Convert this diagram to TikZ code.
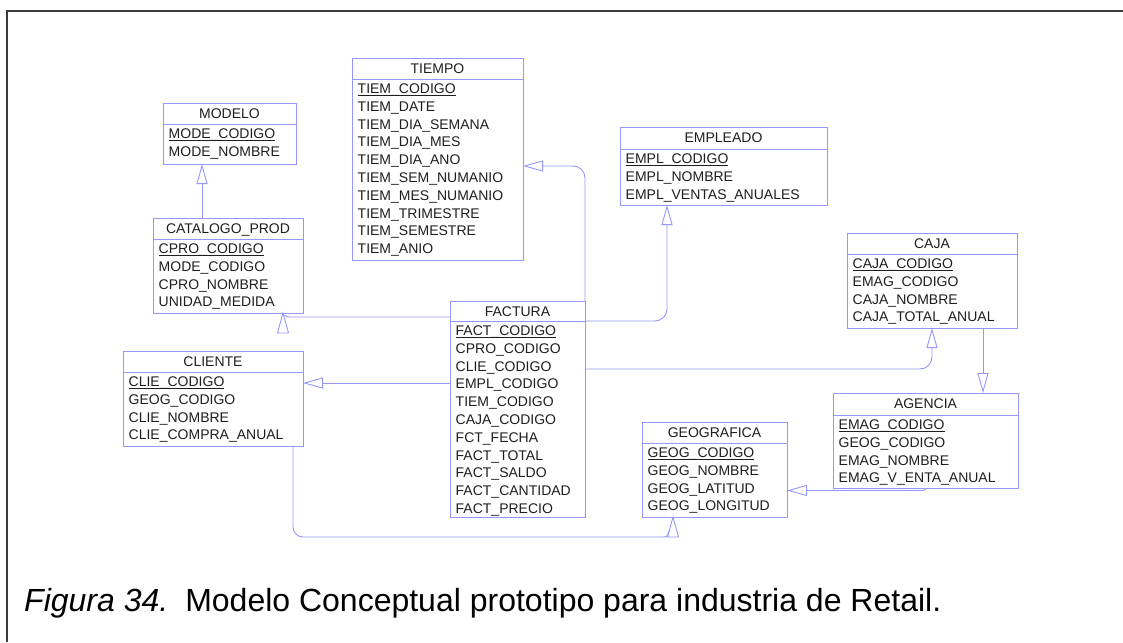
\documentclass[tikz,border=0pt]{standalone}
\usepackage{fontspec}
\setmainfont{Liberation Sans}
\usetikzlibrary{arrows.meta,calc}
\definecolor{lc}{RGB}{150,150,255}
\definecolor{txtc}{RGB}{30,30,30}
\definecolor{framec}{RGB}{60,60,60}
\newcommand\ulin[1]{\setbox0\hbox{#1}\rlap{\rule[-2.9pt]{\wd0}{0.9pt}}\box0}
\newcommand\entbox[8]{%
  \node[ent, minimum width=#4pt, minimum height=#5pt, anchor=north west] (#1) at (#2,#3) {};
  \draw[bline] ([yshift=-#6pt]#1.north west) -- ([yshift=-#6pt]#1.north east);
  \node[etxt, anchor=base] (#1-t) at ([yshift=-15.5pt]#1.north) {#7};
  \node[etxt, anchor=north west, align=left] (#1-a) at ([xshift=5.5pt,yshift=-#6pt-4.5pt]#1.north west) {#8};
}
\begin{document}
\begin{tikzpicture}[x=1pt,y=-1pt,
  ent/.style={draw=lc, line width=0.9pt, rectangle, inner sep=0pt, outer sep=0pt},
  bline/.style={draw=lc, line width=0.9pt},
  etxt/.style={text=txtc, inner sep=0pt, font=\fontsize{14}{17.8}\selectfont},
  conn/.style={draw=lc, line width=0.9pt, -{Triangle[length=20pt,width=11pt,fill=white]}},
  plain/.style={draw=lc, line width=0.9pt},
  tri/.style={draw=lc, line width=0.9pt, fill=white, line join=miter},
  frameline/.style={draw=framec, line width=1.6pt}]
\useasboundingbox (0,0) rectangle (1123,642);
\draw[frameline] (7,642) -- (7,11) -- (1123,11);

\entbox{modelo}{163}{103}{133}{61}{21}{MODELO}{\ulin{MODE\_CODIGO}\\MODE\_NOMBRE}
\entbox{catalogo}{153}{218}{150}{95}{21}{CATALOGO\_PROD}{\ulin{CPRO\_CODIGO}\\MODE\_CODIGO\\CPRO\_NOMBRE\\UNIDAD\_MEDIDA}
\entbox{tiempo}{352}{58}{171}{202}{21}{TIEMPO}{\ulin{TIEM\_CODIGO}\\TIEM\_DATE\\TIEM\_DIA\_SEMANA\\TIEM\_DIA\_MES\\TIEM\_DIA\_ANO\\TIEM\_SEM\_NUMANIO\\TIEM\_MES\_NUMANIO\\TIEM\_TRIMESTRE\\TIEM\_SEMESTRE\\TIEM\_ANIO}
\entbox{empleado}{620}{127}{207}{78}{22}{EMPLEADO}{\ulin{EMPL\_CODIGO}\\EMPL\_NOMBRE\\EMPL\_VENTAS\_ANUALES}
\entbox{caja}{847}{233}{170}{95}{21}{CAJA}{\ulin{CAJA\_CODIGO}\\EMAG\_CODIGO\\CAJA\_NOMBRE\\CAJA\_TOTAL\_ANUAL}
\entbox{agencia}{833}{393}{185}{95}{22}{AGENCIA}{\ulin{EMAG\_CODIGO}\\GEOG\_CODIGO\\EMAG\_NOMBRE\\EMAG\_V\_ENTA\_ANUAL}
\entbox{geografica}{642}{422}{145}{95}{21}{GEOGRAFICA}{\ulin{GEOG\_CODIGO}\\GEOG\_NOMBRE\\GEOG\_LATITUD\\GEOG\_LONGITUD}
\entbox{cliente}{123}{351}{180}{95}{21}{CLIENTE}{\ulin{CLIE\_CODIGO}\\GEOG\_CODIGO\\CLIE\_NOMBRE\\CLIE\_COMPRA\_ANUAL}
\entbox{factura}{450}{301}{135}{216}{20}{FACTURA}{\ulin{FACT\_CODIGO}\\CPRO\_CODIGO\\CLIE\_CODIGO\\EMPL\_CODIGO\\TIEM\_CODIGO\\CAJA\_CODIGO\\FCT\_FECHA\\FACT\_TOTAL\\FACT\_SALDO\\FACT\_CANTIDAD\\FACT\_PRECIO}

% CATALOGO -> MODELO
\coordinate (cm) at ([xshift=49pt]catalogo.north west);
\draw[conn] (cm) -- (cm |- modelo.south);
% FACTURA -> TIEMPO
\draw[conn, rounded corners=12pt] (factura.north east) |- ([yshift=-7pt]tiempo.east);
% FACTURA -> EMPLEADO
\coordinate (fe) at ([yshift=-20pt]factura.north east);
\draw[conn, rounded corners=12pt] (fe) -| ([xshift=-56.5pt]empleado.south);
% FACTURA -> CAJA
\coordinate (fc) at ([yshift=-68pt]factura.north east);
\draw[conn, rounded corners=12pt] (fc) -| (caja.south);
% CAJA -> AGENCIA
\coordinate (ca) at ([xshift=51pt]caja.south);
\draw[conn] (ca) -- (ca |- agencia.north);
% AGENCIA -> GEOGRAFICA
\draw[conn, rounded corners=2pt] (agencia.south) |- ([yshift=-21pt]geografica.east);
% FACTURA -> CLIENTE
\coordinate (fcl) at ([yshift=-82pt]factura.north west);
\draw[conn] (fcl) -- (fcl -| cliente.east);
% FACTURA -> CATALOGO
\coordinate (cpa) at ([xshift=55pt]catalogo.south);
\draw[tri] (cpa) -- ++(-5.5,20) -- ++(11,0) -- cycle;
\coordinate (fcp) at ([yshift=-16pt]factura.north west);
\draw[plain] (fcp) -- ($(cpa)+(9,4)$) .. controls ($(cpa)+(4,4)$) .. ($(cpa)+(1.4,2)$);
% CLIENTE -> GEOGRAFICA
\coordinate (clb) at ([xshift=80pt]cliente.south);
\coordinate (gpa) at ([xshift=-41.5pt]geografica.south);
\draw[tri] (gpa) -- ++(-5.5,20) -- ++(11,0) -- cycle;
\draw[plain, rounded corners=10pt] (clb) |- ($(gpa)+(-11,20)$);
\draw[plain] ($(gpa)+(-11,20)$) .. controls ($(gpa)+(-6,20)$) .. ($(gpa)+(-3.6,13)$);

% caption
\node[anchor=base west, inner sep=0pt, text=black, font=\fontsize{32}{38}\selectfont] (cap) at (24,611)
  {\textit{Figura 34.}\hspace{17pt}Modelo Conceptual prototipo para industria de Retail.};
\end{tikzpicture}
\end{document}
